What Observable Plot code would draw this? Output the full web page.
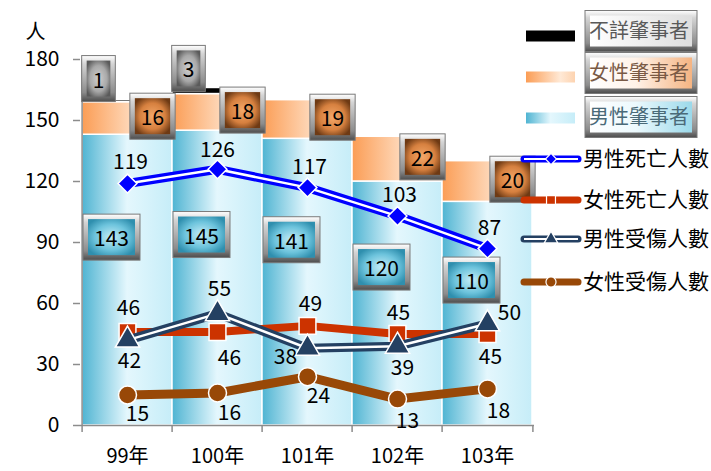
<!DOCTYPE html>
<html><head><meta charset="utf-8">
<script src="https://cdn.jsdelivr.net/npm/d3@7"></script>
<script src="https://cdn.jsdelivr.net/npm/@observablehq/plot@0.6"></script>
<style>
body{margin:0;background:#fff;}
#wrap{position:relative;width:711px;height:471px;}
</style></head><body><div id="wrap"></div>
<script>
// ---------- data ----------
const years = ["99年","100年","101年","102年","103年"];
const maleDrivers = [143,145,141,120,110];
const femaleDrivers = [16,18,19,22,20];
const unknownDrivers = [1,3,0,0,0];
const maleDeaths = [119,126,117,103,87];
const femaleDeaths = [46,46,49,45,45];
const maleInjured = [42,55,38,39,50];
const femaleInjured = [15,16,24,13,18];
const yTicks = [0,30,60,90,120,150,180];
const barSeries = ["男性肇事者","女性肇事者","不詳肇事者"];
const lineSeries = ["男性死亡人數","女性死亡人數","男性受傷人數","女性受傷人數"];
const yUnit = "人";

// ---------- layout ----------
const FONT = '"Noto Sans CJK TC","Noto Sans",sans-serif';
const FS = 21;
const W = 711, H = 471, mL = 80, mR = 177, mT = 59, mB = 46;
const bw = (W - mL - mR) / years.length;

const bars = years.flatMap((yr, i) => [
  {year: yr, series: barSeries[0], value: maleDrivers[i]},
  {year: yr, series: barSeries[1], value: femaleDrivers[i]},
  {year: yr, series: barSeries[2], value: unknownDrivers[i]}
]);
const maleLbl = years.map((yr, i) => ({year: yr, value: maleDrivers[i], pos: maleDrivers[i] * 0.64}));
const femaleLbl = years.map((yr, i) => ({year: yr, value: femaleDrivers[i], pos: maleDrivers[i] + femaleDrivers[i] / 2}));
const unknownLbl = years.map((yr, i) => ({year: yr, value: unknownDrivers[i], pos: maleDrivers[i] + femaleDrivers[i] + unknownDrivers[i] / 2 + 10})).filter(d => d.value > 0);

const lineStyle = [
  {name: lineSeries[0], values: maleDeaths, color: "#0000FF", symbol: "diamond2", r: 8.5, hollow: true, w: 9},
  {name: lineSeries[1], values: femaleDeaths, color: "#CC3300", symbol: "square", r: 9.5, hollow: false, w: 8},
  {name: lineSeries[2], values: maleInjured, color: "#244062", symbol: "triangle", r: 9, hollow: true, w: 9},
  {name: lineSeries[3], values: femaleInjured, color: "#984807", symbol: "circle", r: 9, hollow: false, w: 9}
];
const labelOffsets = [
  [[3,-21],[0,-19],[2,-20],[2,-21],[2,-20]],
  [[1,-24],[12,26],[3,-22],[1,-21],[3,23]],
  [[2,21],[2,-24],[-22,9],[5,22],[22,-11]],
  [[10,19],[12,20],[11,20],[10,22],[11,22]]
];

const lineMarks = [], labelMarks = [];
lineStyle.forEach((s, k) => {
  const data = years.map((yr, i) => ({year: yr, value: s.values[i]}));
  lineMarks.push(Plot.line(data, {x: "year", y: "value", stroke: s.color, strokeWidth: s.w}));
  if (s.hollow) lineMarks.push(Plot.line(data, {x: "year", y: "value", stroke: "white", strokeWidth: 2.5}));
  lineMarks.push(Plot.dot(data, {x: "year", y: "value", symbol: s.symbol, r: s.r, fill: s.color, stroke: "white", strokeWidth: 1.5}));
  data.forEach((d, i) => {
    const [dx, dy] = labelOffsets[k][i];
    labelMarks.push(Plot.text([d], {x: "year", y: "value", text: d => String(d.value), dx, dy, fontSize: FS, fill: "#000"}));
  });
});

const axisColor = "#8c8c8c";
// distinctive group opacities used to find the boxed label groups after rendering
const BOX_TAGS = {unknown: 0.9991, female: 0.9992, male: 0.9993};
const chart = Plot.plot({
  width: W, height: H, marginLeft: mL, marginRight: mR, marginTop: mT, marginBottom: mB,
  style: {fontFamily: FONT, background: "white", overflow: "visible", fontSize: FS + "px"},
  x: {domain: years, padding: 0, label: null},
  y: {domain: [0, 180], label: null},
  color: {domain: barSeries, range: ["url(#gMale)", "url(#gFemale)", "#000000"]},
  marks: [
    Plot.barY(bars, {x: "year", y: "value", fill: "series", stroke: "white", strokeWidth: 1.5}),
    Plot.ruleY([0], {stroke: axisColor, strokeWidth: 1.5}),
    Plot.ruleX([years[0]], {dx: -bw / 2, y1: 0, y2: 180, stroke: axisColor, strokeWidth: 1.5}),
    Plot.ruleX(years, {x: d => d, dx: -bw / 2, y1: 0, y2: -3.4, stroke: axisColor, strokeWidth: 1.5}),
    Plot.ruleX([years[years.length - 1]], {x: d => d, dx: bw / 2, y1: 0, y2: -3.4, stroke: axisColor, strokeWidth: 1.5}),
    Plot.axisY({ticks: yTicks, tickSize: 7, tickPadding: 14, fontSize: FS, stroke: axisColor, strokeWidth: 1.5, fill: "#000", label: null}),
    Plot.axisX({tickSize: 0, tickPadding: 23, fontSize: 20, fill: "#000", label: null}),
    Plot.text([yUnit], {frameAnchor: "top-left", textAnchor: "middle", lineAnchor: "middle", dx: -45, dy: -27, fontSize: 20, fill: "#000"}),
    Plot.text(unknownLbl, {x: "year", y: "pos", text: d => String(d.value), dx: -29, fontSize: FS, fill: "#000", fillOpacity: BOX_TAGS.unknown}),
    Plot.text(femaleLbl, {x: "year", y: "pos", text: d => String(d.value), dx: 25, fontSize: FS, fill: "#000", fillOpacity: BOX_TAGS.female}),
    Plot.text(maleLbl, {x: "year", y: "pos", text: d => String(d.value), dx: -16, fontSize: FS, fill: "#000", fillOpacity: BOX_TAGS.male}),
    ...lineMarks,
    ...labelMarks
  ]
});
document.getElementById("wrap").appendChild(chart);

// ---------- gradients ----------
const svg = d3.select(chart);
const defs = svg.insert("defs", ":first-child");
function linGrad(id, stops, vertical) {
  const g = defs.append("linearGradient").attr("id", id)
    .attr("x1", 0).attr("y1", 0).attr("x2", vertical ? 0 : 1).attr("y2", vertical ? 1 : 0);
  stops.forEach(([o, c]) => g.append("stop").attr("offset", o).attr("stop-color", c));
}
function radGrad(id, stops) {
  const g = defs.append("radialGradient").attr("id", id).attr("cx", 0.5).attr("cy", 0.5).attr("r", 0.6);
  stops.forEach(([o, c]) => g.append("stop").attr("offset", o).attr("stop-color", c));
}
linGrad("gMale", [[0, "#4fb4d2"], [0.5, "#e4f7fd"], [1, "#c6edf8"]]);
linGrad("gFemale", [[0, "#fb9d55"], [0.7, "#ffe9d6"], [1, "#fdd3b0"]]);
linGrad("bevel", [[0, "#ffffff"], [0.18, "#d4d4d4"], [0.8, "#8c8c8c"], [1, "#4d4d4d"]], true);
radGrad("inMale", [[0, "#c4ecf7"], [0.6, "#6cc3dc"], [1, "#2f8fae"]]);
radGrad("inFemale", [[0, "#f4a869"], [0.6, "#d6803f"], [1, "#6e3a14"]]);
radGrad("inUnknown", [[0, "#cfcfcf"], [0.6, "#a8a8a8"], [1, "#5a5a5a"]]);
linGrad("lbUnknown", [[0, "#ffffff"], [1, "#dedede"]]);
linGrad("lbFemale", [[0, "#ffffff"], [0.45, "#fff2e8"], [1, "#f5b482"]]);
linGrad("lbMale", [[0, "#ffffff"], [0.45, "#ecf9fd"], [1, "#9bd9ea"]]);

function drawBox(g, x, y, w, h, inner) {
  g.append("rect").attr("x", x).attr("y", y).attr("width", w).attr("height", h)
    .attr("fill", "url(#bevel)").attr("stroke", "#7a7a7a").attr("stroke-width", 1);
  g.append("rect").attr("x", x + 5).attr("y", y + 5).attr("width", w - 10).attr("height", h - 10)
    .attr("fill", inner);
}
function boxify(tag, inner) {
  svg.selectAll("g").filter(function () {
    return Math.abs(parseFloat(this.getAttribute("fill-opacity")) - tag) < 1e-6;
  }).each(function () {
    const grp = this;
    grp.removeAttribute("fill-opacity");
    d3.select(grp).selectAll("text").each(function () {
      this.removeAttribute("fill-opacity");
      const b = this.getBBox();
      const w = b.width + 22, h = 46;
      const cx = b.x + b.width / 2, cy = b.y + b.height / 2;
      const g = d3.create("svg:g");
      const t = this.getAttribute("transform");
      if (t) g.attr("transform", t);
      drawBox(g, cx - w / 2, cy - h / 2, w, h, inner);
      this.parentNode.insertBefore(g.node(), this);
    });
  });
}
boxify(BOX_TAGS.unknown, "url(#inUnknown)");
boxify(BOX_TAGS.female, "url(#inFemale)");
boxify(BOX_TAGS.male, "url(#inMale)");

// ---------- legend ----------
const lg = svg.append("g").attr("font-family", FONT).attr("text-anchor", "start");
const barLeg = [
  {name: barSeries[2], fill: "#000", inner: "url(#lbUnknown)", txt: "#595959", y: 36, by: 31},
  {name: barSeries[1], fill: "url(#gFemale)", inner: "url(#lbFemale)", txt: "#7a5a45", y: 77, by: 73},
  {name: barSeries[0], fill: "url(#gMale)", inner: "url(#lbMale)", txt: "#4a6a78", y: 118, by: 117}
];
barLeg.forEach(d => {
  lg.append("rect").attr("x", 526).attr("y", d.y - 5.5).attr("width", 49).attr("height", 11).attr("fill", d.fill);
  const g = lg.append("g");
  drawBox(g, 585, d.by - 20.5, 112, 41, d.inner);
  g.append("text").attr("x", 589).attr("y", d.by).attr("dy", "0.35em").attr("font-size", 20)
    .attr("text-anchor", "start").attr("fill", d.txt).text(d.name);
});
const lineLegY = [159, 200, 239, 282];
const symMap = {diamond2: d3.symbolDiamond2, square: d3.symbolSquare, triangle: d3.symbolTriangle, circle: d3.symbolCircle};
lineStyle.forEach((s, k) => {
  const y = lineLegY[k];
  const g = lg.append("g");
  g.append("line").attr("x1", 524).attr("x2", 578).attr("y1", y).attr("y2", y)
    .attr("stroke", s.color).attr("stroke-width", 7).attr("stroke-linecap", "round");
  if (s.hollow) g.append("line").attr("x1", 524).attr("x2", 578).attr("y1", y).attr("y2", y)
    .attr("stroke", "white").attr("stroke-width", 2.2);
  g.append("path").attr("d", d3.symbol(symMap[s.symbol], 80)()).attr("transform", `translate(551,${y})`)
    .attr("fill", s.color).attr("stroke", "white").attr("stroke-width", 1.2);
  g.append("text").attr("x", 583).attr("y", y).attr("dy", "0.35em").attr("font-size", 21)
    .attr("text-anchor", "start").attr("fill", "#000").text(s.name);
});
</script>
</body></html>
